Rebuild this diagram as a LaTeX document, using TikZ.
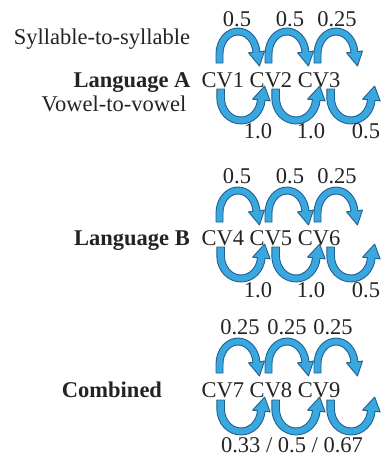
\documentclass[tikz,border=0pt]{standalone}
\usepackage{fontspec}
\setmainfont{Liberation Serif}
\definecolor{arrowblue}{RGB}{58,168,222}
\definecolor{arrowedge}{RGB}{30,96,146}
\definecolor{ink}{RGB}{35,35,35}
\tikzset{
  hoparrow/.style={fill=arrowblue, draw=arrowedge, line width=0.9pt, line join=round},
  txt/.style={font=\fontsize{22.5}{27}\selectfont, text=ink, inner sep=0pt,
    text height=14.9pt, text depth=0pt, anchor=center},
  heading/.style={txt, font=\fontsize{22.5}{27}\selectfont\bfseries},
}
% curved block arrow around a centre; #3 = -1 arches over, 1 dips under
\newcommand\curvedhop[3][1]{%
  \begin{scope}[shift={#2}, yscale=#3, xscale=#1]
    \draw[hoparrow] (-22,-9) -- (-22,0)
      arc[start angle=180, end angle=5, x radius=22, y radius=26]
      -- (26.5,3) -- (21.5,-12) -- (10.5,1.2) -- (14.95,1.65)
      arc[start angle=5, end angle=180, x radius=15, y radius=19]
      -- (-15,-9) -- cycle;
  \end{scope}}
\begin{document}
\begin{tikzpicture}[x=1pt, y=-1pt]
  \useasboundingbox (0,0) rectangle (381,461);

  % ---- Language A ----
  \node[txt] (sylA) at (102,37) {Syllable-to-syllable};
  \node[heading] (langA) at (132,80) {Language A};
  \node[txt] (vowA) at (114,104) {Vowel-to-vowel};
  \node[txt] (cvA) at (271,80) {CV1 CV2 CV3};
  \node[txt] (sA1) at (237,19) {0.5};
  \node[txt] (sA2) at (290,19) {0.5};
  \node[txt] (sA3) at (337,19) {0.25};
  \curvedhop{(238,54)}{-1}
  \curvedhop{(287,54)}{-1}
  \curvedhop{(336,54)}{-1}
  \curvedhop[1.1]{(241,98)}{1}
  \curvedhop[1.1]{(296,98)}{1}
  \curvedhop[1.1]{(351,98)}{1}
  \node[txt] (vA1) at (258,131) {1.0};
  \node[txt] (vA2) at (311,131) {1.0};
  \node[txt] (vA3) at (366,131) {0.5};

  % ---- Language B ----
  \node[heading] (langB) at (132,238) {Language B};
  \node[txt] (cvB) at (271,238) {CV4 CV5 CV6};
  \node[txt] (sB1) at (237,176) {0.5};
  \node[txt] (sB2) at (290,176) {0.5};
  \node[txt] (sB3) at (337,176) {0.25};
  \curvedhop{(238,213)}{-1}
  \curvedhop{(287,213)}{-1}
  \curvedhop{(336,213)}{-1}
  \curvedhop[1.1]{(241,256)}{1}
  \curvedhop[1.1]{(296,256)}{1}
  \curvedhop[1.1]{(351,256)}{1}
  \node[txt] (vB1) at (258,290) {1.0};
  \node[txt] (vB2) at (311,290) {1.0};
  \node[txt] (vB3) at (366,290) {0.5};

  % ---- Combined ----
  \node[heading] (comb) at (112,390) {Combined};
  \node[txt] (cvC) at (271,390) {CV7 CV8 CV9};
  \node[txt] (sC1) at (240,327) {0.25};
  \node[txt] (sC2) at (287,327) {0.25};
  \node[txt] (sC3) at (333,327) {0.25};
  \curvedhop{(238,364)}{-1}
  \curvedhop{(287,364)}{-1}
  \curvedhop{(336,364)}{-1}
  \curvedhop[1.1]{(241,409)}{1}
  \curvedhop[1.1]{(296,409)}{1}
  \curvedhop[1.1]{(351,409)}{1}
  \node[txt] (vC) at (292,445) {0.33 / 0.5 / 0.67};
\end{tikzpicture}
\end{document}
